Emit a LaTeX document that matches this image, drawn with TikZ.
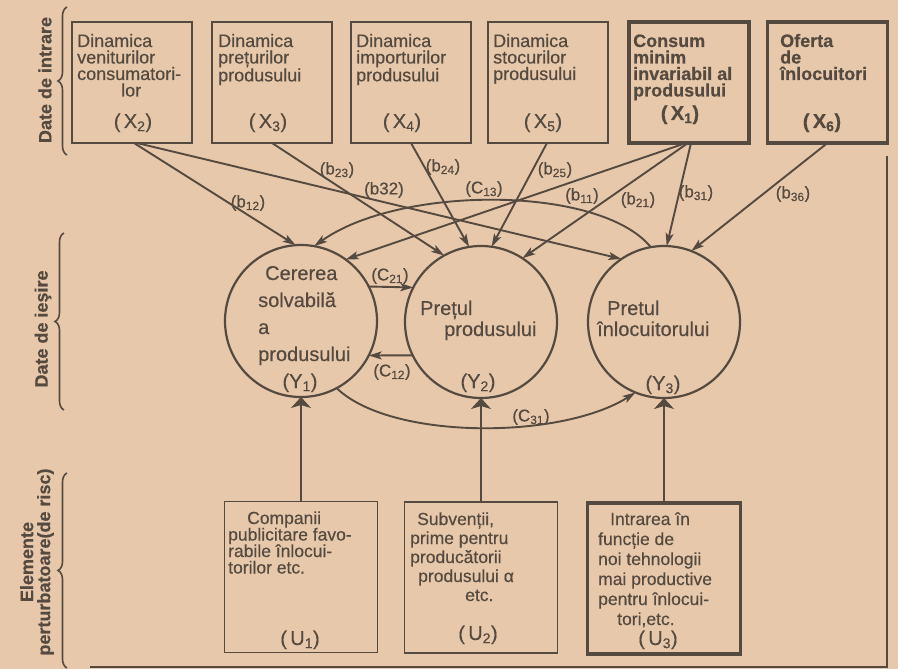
\documentclass[tikz,border=0pt]{standalone}
\usepackage{fontspec}
\setmainfont{Liberation Sans}[FakeBold=0.4]
\usetikzlibrary{arrows.meta,decorations.pathreplacing}
\definecolor{paper}{RGB}{232,200,170}
\definecolor{ink}{RGB}{84,74,64}
\newcommand{\tblock}[2]{\parbox[t]{#1}{\raggedright #2}}
\begin{document}
\begin{tikzpicture}[x=1pt,y=-1pt,
  every node/.style={text=ink},
  inbox/.style={draw=ink, line width=1.8pt, minimum width=120pt, minimum height=121pt, inner sep=0pt, outer sep=0pt},
  boldbox/.style={inbox, line width=3.3pt},
  ubox/.style={draw=ink, line width=1.8pt, minimum width=153pt, minimum height=151pt, inner sep=0pt, outer sep=0pt},
  circ/.style={draw=ink, circle, line width=2.2pt, minimum size=152pt, inner sep=0pt, outer sep=0pt},
  txt/.style={inner sep=0pt, anchor=base west, font=\fontsize{18}{16.5}\selectfont},
  utxt/.style={inner sep=0pt, anchor=base west, font=\fontsize{17.5}{#1}\selectfont},
  ctxt/.style={inner sep=0pt, anchor=base west, font=\fontsize{20}{#1}\selectfont},
  lab/.style={inner sep=0pt, anchor=base, font=\fontsize{20}{20}\selectfont},
  clab/.style={inner sep=0pt, anchor=base, font=\fontsize{20}{20}\selectfont},
  elab/.style={inner sep=0pt, font=\fontsize{17}{17}\selectfont},
  side/.style={inner sep=0pt, rotate=90, align=center, font=\fontsize{18}{17}\selectfont\bfseries},
  arr/.style={draw=ink, line width=1.9pt, -{Stealth[length=13pt,width=8pt,inset=3pt]}},
  uarr/.style={draw=ink, line width=1.9pt, -{Stealth[length=11pt,width=20pt,inset=3pt]}},
  brc/.style={draw=ink, line width=1.6pt, decorate, decoration={brace, amplitude=9pt}}
]
\fill[paper] (0,0) rectangle (898,669);
\useasboundingbox (0,0) rectangle (898,669);

% input boxes
\node[inbox] (x2) at (132,82.5) {};
\node[inbox] (x3) at (272,82.5) {};
\node[inbox] (x4) at (411,82.5) {};
\node[inbox] (x5) at (548,82.5) {};
\node[boldbox] (x1) at (689,82.5) {};
\node[boldbox] (x6) at (827.5,82.5) {};

\node[txt] (x2t) at (77,47) {\tblock{115pt}{Dinamica\\veniturilor\\consumatori-\\\hspace*{44pt}lor}};
\node[lab] (x2l) at (133,128) {(\,X\textsubscript{2})};
\node[txt] (x3t) at (218,47) {\tblock{115pt}{Dinamica\\prețurilor\\produsului}};
\node[lab] (x3l) at (268,128) {(\,X\textsubscript{3})};
\node[txt] (x4t) at (356,47) {\tblock{115pt}{Dinamica\\importurilor\\produsului}};
\node[lab] (x4l) at (402,128) {(\,X\textsubscript{4})};
\node[txt] (x5t) at (493,47) {\tblock{115pt}{Dinamica\\stocurilor\\produsului}};
\node[lab] (x5l) at (543,128) {(\,X\textsubscript{5})};
\node[txt,font=\fontsize{18}{16.5}\selectfont\bfseries] (x1t) at (633,47) {\tblock{115pt}{Consum\\minim\\invariabil al\\produsului}};
\node[lab,font=\fontsize{20}{20}\selectfont\bfseries] (x1l) at (680,120) {(\,X\textsubscript{1})};
\node[txt,font=\fontsize{18}{16.5}\selectfont\bfseries] (x6t) at (780,47) {\tblock{105pt}{Oferta\\de\\înlocuitori}};
\node[lab,font=\fontsize{20}{20}\selectfont\bfseries] (x6l) at (822,128) {(\,X\textsubscript{6})};

% output circles
\node[circ] (y1) at (301,321) {};
\node[circ] (y2) at (481,322) {};
\node[circ] (y3) at (664,322) {};

\node[ctxt=27] (y1t) at (258,280) {\tblock{110pt}{\hspace*{7pt}Cererea\\solvabilă\\a\\produsului}};
\node[clab] (y1l) at (300,388) {(Y\textsubscript{1})};
\node[ctxt=21] (y2t) at (420,315) {\tblock{130pt}{Prețul\\\hspace*{24pt}produsului}};
\node[clab] (y2l) at (478,388) {(Y\textsubscript{2})};
\node[ctxt=21] (y3t) at (597,315) {\tblock{140pt}{\hspace*{10pt}Pretul\\înlocuitorului}};
\node[clab] (y3l) at (663,390) {(Y\textsubscript{3})};

% disturbance boxes
\node[ubox] (u1) at (301,577) {};
\node[ubox] (u2) at (481,577.5) {};
\node[ubox, line width=3.2pt] (u3) at (664,578.5) {};

\node[utxt=16.5] (u1t) at (228,524) {\tblock{150pt}{\hspace*{19pt}Companii\\publicitare favo-\\rabile înlocui-\\torilor etc.}};
\node[lab] (u1l) at (300,645) {(\,U\textsubscript{1})};
\node[utxt=19] (u2t) at (410,525) {\tblock{150pt}{\hspace*{7pt}Subvenții,\\prime pentru\\producătorii\\\hspace*{8pt}produsului α\\\hspace*{55pt}etc.}};
\node[lab] (u2l) at (478,640) {(\,U\textsubscript{2})};
\node[utxt=20] (u3t) at (598,525) {\tblock{150pt}{\hspace*{12pt}Intrarea în\\funcție de\\noi tehnologii\\mai productive\\pentru înlocui-\\\hspace*{19pt}tori,etc.}};
\node[lab] (u3l) at (658,645) {(\,U\textsubscript{3})};

% side labels and braces
\node[side] (s1) at (45,80) {Date de intrare};
\node[side] (s2) at (43,329) {Date de ieşire};
\node[side] (s3) at (37,562) {Elemente\\perturbatoare(de risc)};
\draw[brc] (67,155) -- (67,7);
\draw[brc] (64,410) -- (64,233);
\draw[brc] (67,668) -- (67,473);

% frame
\draw[ink, line width=1.8pt] (90,667) -- (887,667) -- (887,156);

% connectors from inputs
\draw[arr] ([xshift=2pt]x2.south) -- (y1.94);
\draw[arr] ([xshift=5pt]x2.south) -- (y3.124);
\draw[arr] (x3.south) -- (y2.119);
\draw[arr] (x4.south) -- (y2.99);
\draw[arr] ([xshift=-1pt]x5.south) -- (y2.82);
\draw[arr] ([xshift=-3pt]x1.south) -- (y1.54);
\draw[arr] ([xshift=-1pt]x1.south) -- (y2.57);
\draw[arr] ([xshift=2pt]x1.south) -- (y3.88);
\draw[arr] (x6.south) -- (y3.69);

% links between outputs
\draw[arr] (y3.100) .. controls (600,185) and (400,185) .. (y1.80);
\draw[arr] (y1.27) -- (y2.153);
\draw[arr] (y2.206) -- (y1.-27);
\draw[arr] (y1.-62) .. controls (390,440) and (560,440) .. (y3.248);

% disturbances
\draw[uarr] (u1.north) -- (y1.south);
\draw[uarr] (u2.north) -- (y2.south);
\draw[uarr] (u3.north) -- (y3.south);

% connector labels
\node[elab] (lb12) at (248,203) {(b\textsubscript{12})};
\node[elab] (lb23) at (337,170) {(b\textsubscript{23})};
\node[elab] (lb32) at (384,190) {(b32)};
\node[elab] (lb24) at (443,167) {(b\textsubscript{24})};
\node[elab] (lc13) at (484,189) {(C\textsubscript{13})};
\node[elab] (lb25) at (555,170) {(b\textsubscript{25})};
\node[elab] (lb11) at (582,196) {(b\textsubscript{11})};
\node[elab] (lb21) at (638,200) {(b\textsubscript{21})};
\node[elab] (lb31) at (696,193) {(b\textsubscript{31})};
\node[elab] (lb36) at (793,194) {(b\textsubscript{36})};
\node[elab] (lc21) at (390,276) {(C\textsubscript{21})};
\node[elab] (lc12) at (392,372) {(C\textsubscript{12})};
\node[elab] (lc31) at (531,417) {(C\textsubscript{31})};
\end{tikzpicture}
\end{document}
